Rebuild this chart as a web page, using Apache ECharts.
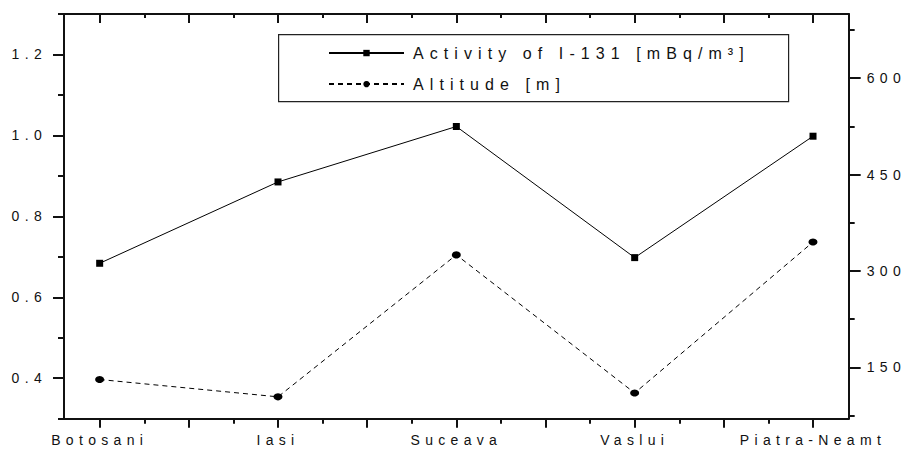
<!DOCTYPE html>
<html>
<head>
<meta charset="utf-8">
<script src="https://cdn.jsdelivr.net/npm/echarts@6/dist/echarts.min.js"></script>
<style>
  html, body { margin: 0; padding: 0; background: #fff; }
  #chart { width: 909px; height: 450px; }
  /* wide, evenly spaced lettering for every text element of the plot */
  #chart svg text { letter-spacing: 0.38em; }
</style>
</head>
<body>
<div id="chart"></div>
<script>
// Monitoring sites and measured values
const categories = ['Botosani', 'Iasi', 'Suceava', 'Vaslui', 'Piatra-Neamt'];
const activity = [0.684, 0.885, 1.022, 0.698, 0.998];   // mBq/m3
const altitude = [131, 104, 325, 110, 345];             // m

// Axis tick values
const leftLabels = [0.4, 0.6, 0.8, 1.0, 1.2];
const leftMinor = [0.3, 0.5, 0.7, 0.9, 1.1, 1.3];
const rightLabels = [150, 300, 450, 600];
const rightMinor = [75, 225, 375, 525, 675];
const siteTicks = [0, 1, 2, 3, 4];
const halfTicks = [0, 0.5, 1, 1.5, 2, 2.5, 3, 3.5, 4];
const quarterTicks = [0.25, 0.75, 1.25, 1.75, 2.25, 2.75, 3.25, 3.75];

const seriesNames = ['Activity of I-131 [mBq/m\u00B3]', 'Altitude [m]'];

// Text measurement that accounts for the letter spacing set in CSS
const LETTER_SPACING_EM = 0.38;
const measureCtx = document.createElement('canvas').getContext('2d');
echarts.setPlatformAPI({
  measureText(text, font) {
    measureCtx.font = font || '12px sans-serif';
    const m = measureCtx.measureText(text);
    const sizeMatch = /(\d+(?:\.\d+)?)px/.exec(measureCtx.font);
    const size = sizeMatch ? parseFloat(sizeMatch[1]) : 12;
    return { width: m.width + text.length * size * LETTER_SPACING_EM };
  }
});

const FONT = 'Liberation Sans, Arial, sans-serif';
const INK = '#111';

function xAxisBase(extra) {
  return Object.assign({
    type: 'value', min: -0.2, max: 4.2,
    splitLine: { show: false },
    axisLine: { show: false, onZero: false },
    axisLabel: { show: false },
    axisTick: { show: false }
  }, extra);
}
function yAxisBase(min, max, extra) {
  return Object.assign({
    type: 'value', min: min, max: max,
    splitLine: { show: false },
    axisLine: { show: false, onZero: false },
    axisLabel: { show: false },
    axisTick: { show: false }
  }, extra);
}

const chart = echarts.init(document.getElementById('chart'), null, { renderer: 'svg' });

chart.setOption({
  animation: false,
  backgroundColor: '#fff',
  textStyle: { fontFamily: FONT },
  grid: { left: 64, right: 58, top: 14, bottom: 27, containLabel: false },
  xAxis: [
    // bottom: sites, ticks every half step
    xAxisBase({
      position: 'bottom',
      axisLine: { show: true, onZero: false, lineStyle: { color: INK, width: 2 } },
      axisTick: { show: true, customValues: halfTicks, length: 9, lineStyle: { color: INK, width: 2 } },
      axisLabel: {
        show: true, customValues: siteTicks, margin: 12,
        fontSize: 14, fontFamily: FONT, color: INK,
        formatter: v => categories[Math.round(v)] || ''
      }
    }),
    // bottom: quarter-step minor ticks
    xAxisBase({
      position: 'bottom',
      axisTick: { show: true, customValues: quarterTicks, length: 5, lineStyle: { color: INK, width: 2 } }
    }),
    // top frame with inward ticks
    xAxisBase({
      position: 'top',
      axisLine: { show: true, onZero: false, lineStyle: { color: INK, width: 2 } },
      axisTick: { show: true, inside: true, customValues: halfTicks, length: 9, lineStyle: { color: INK, width: 2 } }
    }),
    xAxisBase({
      position: 'top',
      axisTick: { show: true, inside: true, customValues: quarterTicks, length: 4, lineStyle: { color: INK, width: 2 } }
    })
  ],
  yAxis: [
    // left: activity
    yAxisBase(0.3, 1.3, {
      position: 'left',
      axisLine: { show: true, onZero: false, lineStyle: { color: INK, width: 2 } },
      axisTick: { show: true, customValues: leftLabels, length: 11, lineStyle: { color: INK, width: 2 } },
      axisLabel: {
        show: true, customValues: leftLabels, margin: 17,
        fontSize: 14, fontFamily: FONT, color: INK,
        formatter: v => v.toFixed(1)
      }
    }),
    yAxisBase(0.3, 1.3, {
      position: 'left',
      axisTick: { show: true, customValues: leftMinor, length: 6, lineStyle: { color: INK, width: 2 } }
    }),
    // right: altitude
    yAxisBase(70, 700, {
      position: 'right',
      axisLine: { show: true, onZero: false, lineStyle: { color: INK, width: 2 } },
      axisTick: { show: true, customValues: rightLabels, length: 12, lineStyle: { color: INK, width: 2 } },
      axisLabel: {
        show: true, customValues: rightLabels, margin: 18,
        fontSize: 14, fontFamily: FONT, color: INK,
        formatter: v => String(Math.round(v))
      }
    }),
    yAxisBase(70, 700, {
      position: 'right',
      axisTick: { show: true, customValues: rightMinor, length: 6, lineStyle: { color: INK, width: 2 } }
    })
  ],
  legend: {
    orient: 'vertical',
    left: 328, top: 42,
    itemWidth: 75, itemHeight: 8, itemGap: 9,
    padding: 0,
    textStyle: { fontSize: 16, fontFamily: FONT, color: INK, padding: [0, 0, 0, 4] },
    data: seriesNames
  },
  graphic: [
    {
      type: 'rect', left: 278, top: 34, z: -1,
      shape: { width: 510, height: 67 },
      style: { fill: '#fff', stroke: '#222', lineWidth: 1.2 }
    }
  ],
  series: [
    {
      name: seriesNames[0],
      type: 'line',
      xAxisIndex: 0, yAxisIndex: 0,
      data: activity.map((v, i) => [i, v]),
      symbol: 'rect', symbolSize: 7,
      itemStyle: { color: '#000' },
      lineStyle: { color: '#000', width: 1, type: 'solid' }
    },
    {
      name: seriesNames[1],
      type: 'line',
      xAxisIndex: 0, yAxisIndex: 2,
      data: altitude.map((v, i) => [i, v]),
      symbol: 'circle', symbolSize: [9, 7],
      itemStyle: { color: '#000' },
      lineStyle: { color: '#000', width: 1, type: [5, 4] }
    }
  ]
});
</script>
</body>
</html>
